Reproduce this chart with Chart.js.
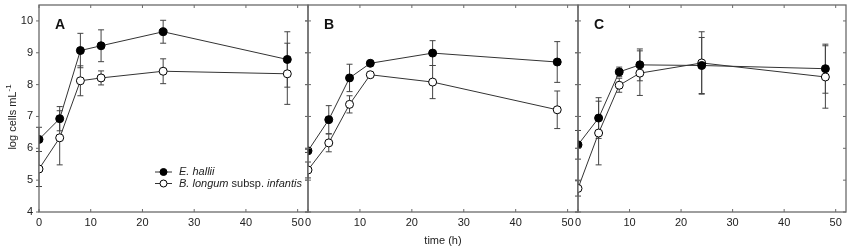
<!DOCTYPE html>
<html>
<head>
<meta charset="utf-8">
<script src="https://cdn.jsdelivr.net/npm/chart.js@4/dist/chart.umd.min.js"></script>
<style>
  body { margin: 0; background: #fff; }
  #wrap { position: relative; width: 851px; height: 251px; }
  #wrap canvas { position: absolute; left: 0; top: 0; }
</style>
</head>
<body>
<div id="wrap">
  <canvas id="panelA" width="851" height="251"></canvas>
  <canvas id="panelB" width="851" height="251"></canvas>
  <canvas id="panelC" width="851" height="251"></canvas>
</div>
<script>
// sampling times (h) and axis ticks
const timePoints = [0, 4, 8, 12, 24, 48];
const xTickValues = [0, 10, 20, 30, 40, 50];
const yTickValues = [4, 5, 6, 7, 8, 9, 10];

// panel A
const halliiA = [6.28, 6.93, 9.07, 9.22, 9.66, 8.79];
const halliiErrA = [0.38, 0.38, 0.54, 0.50, 0.36, 0.87];
const infantisA = [5.35, 6.33, 8.12, 8.21, 8.42, 8.34];
const infantisErrA = [0.55, 0.85, 0.47, 0.22, 0.39, 0.96];

// panel B
const halliiB = [5.92, 6.90, 8.21, 8.67, 8.99, 8.71];
const halliiErrB = [0.05, 0.44, 0.43, 0.04, 0.39, 0.64];
const infantisB = [5.32, 6.17, 7.38, 8.31, 8.08, 7.21];
const infantisErrB = [0.25, 0.28, 0.27, 0.04, 0.52, 0.59];

// panel C
const halliiC = [6.11, 6.95, 8.40, 8.62, 8.60, 8.50];
const halliiErrC = [0.45, 0.64, 0.15, 0.50, 0.88, 0.77];
const infantisC = [4.74, 6.48, 7.98, 8.36, 8.68, 8.24];
const infantisErrC = [0.24, 1.00, 0.22, 0.70, 0.98, 0.98];

const FONT = 'Arial, "Liberation Sans", sans-serif';
const TEXT = '#222';
const FRAME = '#6a6a6a';
const LINE = '#333';

// frame, inward tick marks, error bars, panel letter and extra text
const panelPlugin = {
    id: 'panelDecor',
    beforeDatasetsDraw(chart, args, opts) {
        const ctx = chart.ctx;
        const y = chart.scales.y;
        ctx.save();
        ctx.strokeStyle = '#444';
        ctx.lineWidth = 1;
        chart.data.datasets.forEach((ds, di) => {
            const meta = chart.getDatasetMeta(di);
            ds.errors.forEach((e, i) => {
                const px = meta.data[i].x;
                const top = y.getPixelForValue(ds.data[i].y + e);
                const bot = y.getPixelForValue(ds.data[i].y - e);
                ctx.beginPath();
                ctx.moveTo(px, top); ctx.lineTo(px, bot);
                ctx.moveTo(px - 3, top); ctx.lineTo(px + 3, top);
                ctx.moveTo(px - 3, bot); ctx.lineTo(px + 3, bot);
                ctx.stroke();
            });
        });
        ctx.restore();
    },
    afterDraw(chart, args, opts) {
        const ctx = chart.ctx;
        const a = chart.chartArea;
        const x = chart.scales.x;
        const y = chart.scales.y;
        ctx.save();
        ctx.strokeStyle = FRAME;
        ctx.lineWidth = 1.3;
        ctx.strokeRect(a.left, a.top, a.right - a.left, a.bottom - a.top);

        ctx.lineWidth = 1;
        ctx.beginPath();
        xTickValues.forEach(v => {
            const px = x.getPixelForValue(v);
            ctx.moveTo(px, a.bottom); ctx.lineTo(px, a.bottom - 3);
            ctx.moveTo(px, a.top); ctx.lineTo(px, a.top + 3);
        });
        yTickValues.forEach(v => {
            const py = y.getPixelForValue(v);
            ctx.moveTo(a.left - 3, py); ctx.lineTo(a.left + (opts.first ? 0 : 3), py);
            ctx.moveTo(a.right - 3, py); ctx.lineTo(a.right, py);
        });
        ctx.stroke();

        // panel letter
        ctx.fillStyle = '#111';
        ctx.font = 'bold 14px ' + FONT;
        ctx.textBaseline = 'alphabetic';
        ctx.textAlign = 'left';
        ctx.fillText(opts.letter, a.left + 16, 29);

        if (opts.first) {
            // y axis title with superscript
            ctx.save();
            ctx.translate(13, 117);
            ctx.rotate(-Math.PI / 2);
            ctx.fillStyle = TEXT;
            ctx.font = '11px ' + FONT;
            const main = 'log cells mL';
            const w1 = ctx.measureText(main).width;
            ctx.font = '8px ' + FONT;
            const w2 = ctx.measureText('-1').width;
            const start = -(w1 + w2) / 2;
            ctx.font = '11px ' + FONT;
            ctx.textBaseline = 'middle';
            ctx.fillText(main, start, 0);
            ctx.font = '8px ' + FONT;
            ctx.fillText('-1', start + w1, -4);
            ctx.restore();

            // legend
            const rows = [
                { y: 172, fill: '#000', parts: [['italic', 'E. hallii']] },
                { y: 183.5, fill: '#fff', parts: [['italic', 'B. longum '], ['normal', 'subsp. '], ['italic', 'infantis']] }
            ];
            rows.forEach(r => {
                ctx.strokeStyle = LINE;
                ctx.lineWidth = 1;
                ctx.beginPath();
                ctx.moveTo(155, r.y); ctx.lineTo(172, r.y);
                ctx.stroke();
                ctx.beginPath();
                ctx.arc(163.5, r.y, 3.5, 0, Math.PI * 2);
                ctx.fillStyle = r.fill;
                ctx.fill();
                ctx.strokeStyle = '#000';
                ctx.stroke();
                let tx = 179;
                ctx.fillStyle = TEXT;
                ctx.textBaseline = 'middle';
                r.parts.forEach(([style, t]) => {
                    ctx.font = style + ' 11px ' + FONT;
                    ctx.fillText(t, tx, r.y);
                    tx += ctx.measureText(t).width;
                });
            });
        }

        if (opts.xTitle) {
            ctx.fillStyle = TEXT;
            ctx.font = '11px ' + FONT;
            ctx.textAlign = 'center';
            ctx.textBaseline = 'middle';
            ctx.fillText(opts.xTitle, (a.left + a.right) / 2, 241);
        }
        ctx.restore();
    }
};

function toPoints(values) {
    return timePoints.map((t, i) => ({ x: t, y: values[i] }));
}

// drop the label overhang padding so every panel gets the same plot box
function noOverhang(s) {
    s.paddingTop = 0;
    s.paddingBottom = 0;
    s.paddingLeft = 0;
    s.paddingRight = 0;
}

function makePanel(id, letter, hall, hallErr, inf, infErr, padLeft, yWidth, padRight, xTitle) {
    const first = yWidth > 0;
    return new Chart(document.getElementById(id), {
        type: 'line',
        data: {
            datasets: [
                {
                    label: 'E. hallii',
                    data: toPoints(hall),
                    errors: hallErr,
                    borderColor: LINE,
                    borderWidth: 1,
                    pointRadius: 4,
                    pointBackgroundColor: '#000',
                    pointBorderColor: '#000',
                    pointBorderWidth: 1,
                    tension: 0
                },
                {
                    label: 'B. longum subsp. infantis',
                    data: toPoints(inf),
                    errors: infErr,
                    borderColor: LINE,
                    borderWidth: 1,
                    pointRadius: 4,
                    pointBackgroundColor: '#fff',
                    pointBorderColor: '#000',
                    pointBorderWidth: 1,
                    tension: 0
                }
            ]
        },
        options: {
            responsive: false,
            animation: false,
            devicePixelRatio: 1,
            layout: { padding: { left: padLeft, right: padRight, top: 2, bottom: 0 } },
            plugins: {
                legend: { display: false },
                tooltip: { enabled: false },
                panelDecor: { letter: letter, first: first, xTitle: xTitle }
            },
            scales: {
                x: {
                    type: 'linear',
                    min: 0,
                    max: 52,
                    grid: { display: false, drawTicks: false },
                    border: { display: false },
                    afterBuildTicks: s => { s.ticks = xTickValues.map(v => ({ value: v })); },
                    afterFit: s => { s.height = 39; noOverhang(s); },
                    ticks: {
                        color: TEXT,
                        font: { size: 11, family: FONT },
                        padding: 4,
                        maxRotation: 0,
                        autoSkip: false
                    }
                },
                y: {
                    min: 4,
                    max: 10.5,
                    grid: { display: false, drawTicks: false },
                    border: { display: false },
                    afterBuildTicks: s => { s.ticks = yTickValues.map(v => ({ value: v })); },
                    afterFit: s => { s.width = yWidth; noOverhang(s); },
                    ticks: {
                        display: first,
                        color: TEXT,
                        font: { size: 11, family: FONT },
                        padding: 6
                    }
                }
            }
        },
        plugins: [panelPlugin]
    });
}

makePanel('panelA', 'A', halliiA, halliiErrA, infantisA, infantisErrA, 0, 39, 851 - 308, null);
makePanel('panelB', 'B', halliiB, halliiErrB, infantisB, infantisErrB, 308, 0, 851 - 578, 'time (h)');
makePanel('panelC', 'C', halliiC, halliiErrC, infantisC, infantisErrC, 578, 0, 851 - 847, null);
</script>
</body>
</html>
